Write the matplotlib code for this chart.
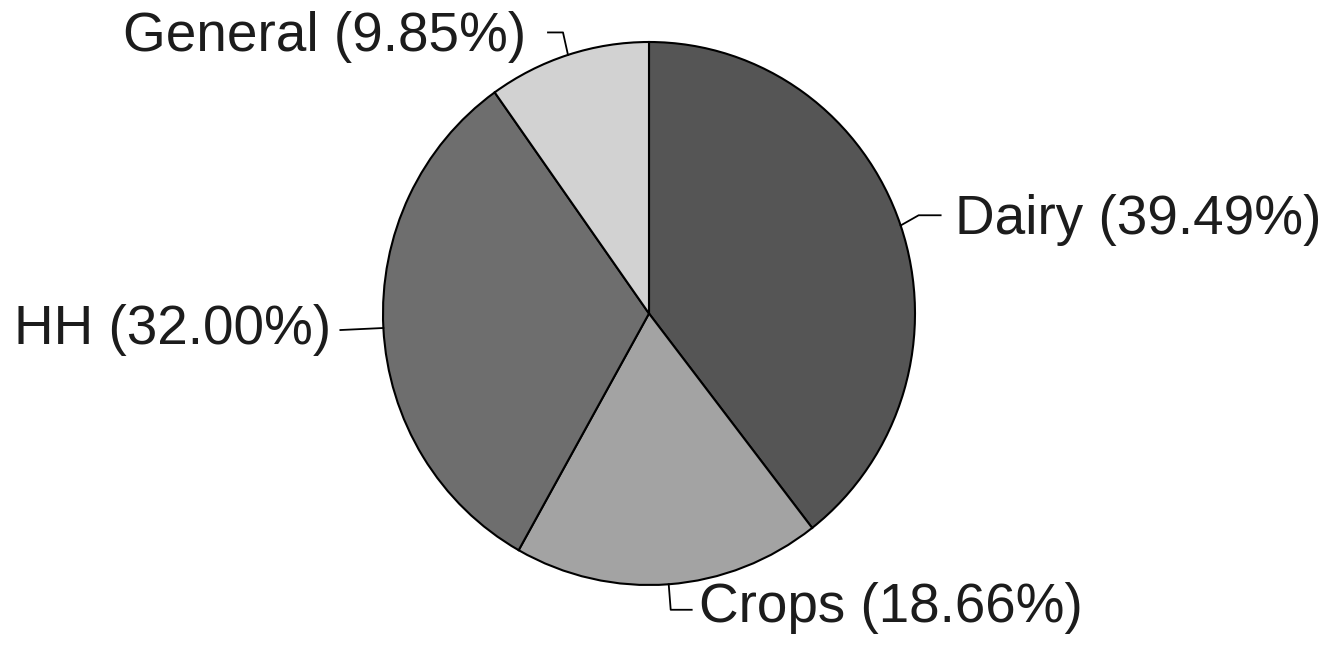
import numpy as np
import matplotlib.pyplot as plt

# shares of the pie, clockwise from 12 o'clock
labels = ['Dairy', 'Crops', 'HH', 'General']
shares = [39.49, 18.66, 32.00, 9.85]
colors = ['#555555', '#a3a3a3', '#6e6e6e', '#d2d2d2']

W, H = 1331, 645
k = 266 / 271.5  # the scanned pie is a little taller than wide
fig = plt.figure(figsize=(W / 100, H / 100), dpi=100)
ax = fig.add_axes([0, 0, 1, 1])

cx, cy, r = 649, (H - 313.5) * k, 266
wedges, _ = ax.pie(shares, colors=colors, startangle=90, counterclock=False,
                   center=(cx, cy), radius=r, frame=True,
                   wedgeprops=dict(edgecolor='black', linewidth=1.5))
ax.set_xlim(0, W)
ax.set_ylim(0, H * k)
ax.set_aspect('auto')
ax.axis('off')

# leader lines: elbow, end (relative to wedge edge), text anchor, text nudge
leaders = {
    'Dairy':   [(18, 10), (40, 10), 'left', (14, -5)],
    'Crops':   [(2, -25), (23, -25), 'left', (7, 2)],
    'HH':      [(-43, -2), (-43, -2), 'right', (-9, 0)],
    'General': [(-5, 22), (-20, 22), 'right', (-22, -4)],
}

for w, lab, s in zip(wedges, labels, shares):
    ang = np.deg2rad((w.theta1 + w.theta2) / 2)
    x0, y0 = cx + r * np.cos(ang), cy + r * np.sin(ang)
    (ex, ey), (tx, ty), ha, (dx, dy) = leaders[lab]
    ax.plot([x0, x0 + ex, x0 + tx], [y0, y0 + ey, y0 + ty],
            color='black', lw=1.3)
    ax.text(x0 + tx + dx, y0 + ty + dy, f'{lab} ({s:.2f}%)', ha=ha, va='center',
            fontsize=39.5, family='Liberation Sans', color='#1c1c1c')

fig.savefig('out.png', dpi=100)
